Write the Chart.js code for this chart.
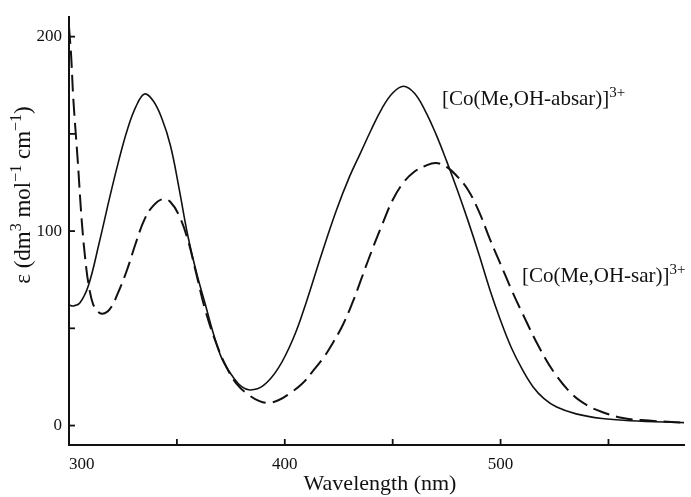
<!DOCTYPE html>
<html>
<head>
<meta charset="utf-8">
<script src="https://cdn.jsdelivr.net/npm/chart.js@4/dist/chart.umd.min.js"></script>
<style>
  html, body { margin: 0; padding: 0; background: #fff; }
  #spectrum { display: block; }
</style>
</head>
<body>
<canvas id="spectrum" width="691" height="497"></canvas>
<script>
const absarWl = [300, 302, 305, 309, 314, 319, 323, 327, 331, 335, 339, 343, 347, 351, 355, 359, 363, 367, 371, 376, 380, 384, 390, 397, 404, 410, 417, 424, 430, 435, 440, 445, 450, 455, 460, 465, 470, 475, 480, 485, 490, 495, 500, 505, 510, 515, 520, 526, 535, 547, 560, 585];
const absarEps = [62, 61.5, 63, 72, 94, 118, 136, 152, 164, 170.5, 167, 158, 144, 122, 98, 79, 63, 47, 34, 25, 20, 18.3, 20.5, 29.5, 45, 63.6, 88, 111, 128, 140, 152, 163, 171, 174.5, 171, 162, 150, 136, 121, 105, 88, 70, 54, 40, 29, 20, 14, 9.5, 6, 3.6, 2.5, 1.5];

const sarWl = [300, 301, 302, 304, 306, 308, 309.5, 311, 313, 315.5, 319, 323, 327, 331, 335, 339, 343.5, 347, 351, 355, 359, 363, 368, 373, 378, 383, 388, 392, 397, 402, 408, 413, 418, 422, 427, 431.5, 435, 440, 445, 450, 455, 460, 465, 470, 475, 480, 485, 490, 495, 500, 505, 510, 518, 525, 533, 540, 547, 556, 565, 585];
const sarEps = [205, 190, 168, 137, 104, 81, 70, 63, 59, 57.5, 60, 69, 80.4, 94, 106, 113, 116.5, 115, 108, 95.7, 78, 60, 43, 30, 21, 16, 12.7, 11.7, 13, 16.3, 21.5, 28, 35, 42, 52, 63.6, 74, 89, 103, 116, 125, 130.5, 133.5, 135, 133, 128, 121, 110, 96, 83, 70, 58, 40, 27, 16.3, 10.5, 7, 4, 2.8, 1.5];

const xTicks = [300, 350, 400, 450, 500, 550];
const yTicks = [0, 50, 100, 150, 200];
const xLabelled = [300, 400, 500];
const yLabelled = [0, 100, 200];

const absarLabel = [{ t: '[Co(Me,OH-absar)]' }, { t: '3+', sup: true }];
const sarLabel = [{ t: '[Co(Me,OH-sar)]' }, { t: '3+', sup: true }];
const yTitle = [{ t: 'ε (dm' }, { t: '3', sup: true }, { t: ' mol' }, { t: '−1', sup: true }, { t: ' cm' }, { t: '−1', sup: true }, { t: ')' }];
const xTitle = [{ t: 'Wavelength (nm)' }];

const ink = '#111';
const serif = '"Liberation Serif", "Times New Roman", serif';

function toPoints(xs, ys) {
    return xs.map((x, i) => ({ x: x, y: ys[i] }));
}

// texto com expoentes desenhado direto no canvas
function richWidth(ctx, parts, size) {
    let w = 0;
    parts.forEach(p => {
        ctx.font = (p.sup ? Math.round(size * 0.7) : size) + 'px ' + serif;
        w += ctx.measureText(p.t).width;
    });
    return w;
}

function drawRich(ctx, parts, x, y, size) {
    let cx = x;
    parts.forEach(p => {
        ctx.font = (p.sup ? Math.round(size * 0.7) : size) + 'px ' + serif;
        ctx.fillText(p.t, cx, p.sup ? y - size * 0.38 : y);
        cx += ctx.measureText(p.t).width;
    });
}

const extras = {
    id: 'extras',
    afterDraw(chart) {
        const ctx = chart.ctx;
        const xs = chart.scales.x, ys = chart.scales.y;
        const area = chart.chartArea;
        ctx.save();
        ctx.strokeStyle = ink;
        ctx.lineWidth = 1.8;
        // marcas para dentro
        xTicks.forEach(v => {
            if (v === xs.min) return;
            const px = xs.getPixelForValue(v);
            ctx.beginPath();
            ctx.moveTo(px, area.bottom);
            ctx.lineTo(px, area.bottom - 6);
            ctx.stroke();
        });
        yTicks.forEach(v => {
            const py = ys.getPixelForValue(v);
            ctx.beginPath();
            ctx.moveTo(area.left, py);
            ctx.lineTo(area.left + 6, py);
            ctx.stroke();
        });

        ctx.fillStyle = ink;
        ctx.textAlign = 'left';
        ctx.textBaseline = 'alphabetic';
        drawRich(ctx, absarLabel, 442, 105, 21);
        drawRich(ctx, sarLabel, 522, 282, 21);

        const xw = richWidth(ctx, xTitle, 22);
        drawRich(ctx, xTitle, 380 - xw / 2, 490, 22);

        ctx.translate(30, 195);
        ctx.rotate(-Math.PI / 2);
        const yw = richWidth(ctx, yTitle, 23);
        drawRich(ctx, yTitle, -yw / 2, 0, 23);
        ctx.restore();
    }
};

const chart = new Chart(document.getElementById('spectrum').getContext('2d'), {
    type: 'line',
    data: {
        datasets: [{
            label: '[Co(Me,OH-absar)]3+',
            data: toPoints(absarWl, absarEps),
            borderColor: ink,
            borderWidth: 1.6,
            pointRadius: 0,
            tension: 0.4,
            fill: false
        }, {
            label: '[Co(Me,OH-sar)]3+',
            data: toPoints(sarWl, sarEps),
            borderColor: ink,
            borderWidth: 2,
            borderDash: [17, 7],
            pointRadius: 0,
            tension: 0.4,
            fill: false
        }]
    },
    options: {
        responsive: false,
        animation: false,
        layout: { padding: { top: 12, right: 7, left: 0, bottom: 0 } },
        plugins: { legend: { display: false }, tooltip: { enabled: false } },
        scales: {
            x: {
                type: 'linear',
                min: 300,
                max: 585,
                afterBuildTicks: s => { s.ticks = xTicks.map(v => ({ value: v })); },
                afterFit: s => { s.height = 52; },
                grid: { display: false, drawTicks: false },
                border: { display: true, color: ink, width: 2 },
                ticks: {
                    color: ink,
                    padding: 9,
                    maxRotation: 0,
                    autoSkip: false,
                    font: { family: serif, size: 17 },
                    callback: v => {
                        if (!xLabelled.includes(v)) return '';
                        return v === 300 ? '      300' : String(v);
                    }
                }
            },
            y: {
                min: -10,
                max: 210,
                afterBuildTicks: s => { s.ticks = yTicks.map(v => ({ value: v })); },
                afterFit: s => { s.width = 69; },
                grid: { display: false, drawTicks: false },
                border: { display: true, color: ink, width: 2 },
                ticks: {
                    color: ink,
                    padding: 7,
                    autoSkip: false,
                    font: { family: serif, size: 17 },
                    callback: v => yLabelled.includes(v) ? String(v) : ''
                }
            }
        }
    },
    plugins: [extras]
});
</script>
</body>
</html>
